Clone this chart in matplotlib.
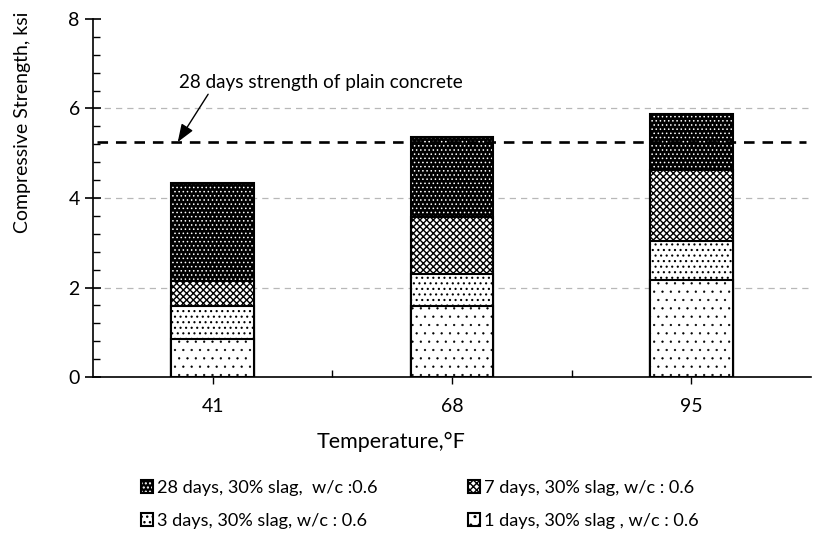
import matplotlib
matplotlib.use("Agg")
import matplotlib.pyplot as plt
from matplotlib.legend_handler import HandlerTuple

plt.rcParams['font.family'] = ['Lato', 'DejaVu Sans']
plt.rcParams['hatch.linewidth'] = 1.0

# strength (ksi), one value per temperature
temps = ['41', '68', '95']
day1 = [0.84, 1.59, 2.17]
day3 = [1.59, 2.30, 3.04]
day7 = [2.15, 3.58, 4.63]
day28 = [4.34, 5.37, 5.88]
plain_28 = 5.25

labels = {
    'd28': '28 days, 30% slag,  w/c :0.6',
    'd7': '7 days, 30% slag, w/c : 0.6',
    'd3': '3 days, 30% slag, w/c : 0.6',
    'd1': '1 days, 30% slag , w/c : 0.6',
}

fig = plt.figure(figsize=(8.13, 5.36), dpi=100)
ax = fig.add_axes([0.1144, 0.2966, 0.8831, 0.668])

x = range(len(temps))
w = 0.345


def hatch_lw(bars, lw):
    for p in bars:
        if hasattr(p, 'set_hatch_linewidth'):
            p.set_hatch_linewidth(lw)


# tallest bars first, shorter ages drawn on top
b28 = ax.bar(x, day28, w, facecolor='black', edgecolor='white', hatch='....', lw=0, zorder=2)
b28o = ax.bar(x, day28, w, fill=False, edgecolor='black', lw=1.5, zorder=2.1)
b7 = ax.bar(x, day7, w, facecolor='white', edgecolor='black', hatch='xxxxx', lw=1.5, zorder=3)
b3 = ax.bar(x, day3, w, facecolor='white', edgecolor='black', hatch='...', lw=1.5, zorder=4)
b1 = ax.bar(x, day1, w, facecolor='white', edgecolor='black', hatch='..', lw=1.5, zorder=5)
hatch_lw(b28, 0.6)
hatch_lw(b1, 0.4)
hatch_lw(b3, 0.8)

ax.axhline(plain_28, xmin=0.005, xmax=0.993, color='black', lw=1.9, dashes=(4, 3), zorder=6)
ax.annotate('28 days strength of plain concrete', xy=(-0.146, plain_28), xytext=(-0.142, 6.57),
            fontsize=13.6, va='center', ha='left',
            arrowprops=dict(arrowstyle='-|>,head_width=0.3,head_length=0.8', color='black',
                            lw=1, shrinkA=0, shrinkB=0, relpos=(0.11, 0)))

ax.set_xlim(-0.5, 2.5)
ax.set_ylim(0, 8)
ax.set_xticks(list(x))
ax.set_xticklabels(temps)
ax.set_xticks([0.5, 1.5], minor=True)
ax.set_yticks([0, 2, 4, 6, 8])
ax.set_yticks([v * 0.4 for v in range(21)], minor=True)
ax.yaxis.grid(True, which='major', color='#b8b8b8', lw=0.9, dashes=(5, 4))
ax.yaxis.get_gridlines()[-1].set_visible(False)
ax.set_axisbelow(True)

for s in ['top', 'right']:
    ax.spines[s].set_visible(False)
for s in ['left', 'bottom']:
    ax.spines[s].set_linewidth(1.2)

ax.tick_params(axis='y', which='major', direction='inout', length=11, width=1.2, labelsize=14, pad=4)
ax.tick_params(axis='y', which='minor', direction='in', length=5, width=1)
ax.tick_params(axis='x', which='major', direction='out', length=5, width=1, labelsize=14, pad=10)
ax.tick_params(axis='x', which='minor', direction='in', length=5, width=1)

ax.set_xlabel('Temperature,°F', fontsize=15.5, va='center')
ax.xaxis.set_label_coords(0.415, -0.182)
ax.set_ylabel('Compressive Strength, ksi', fontsize=14)
ax.yaxis.set_label_coords(-0.086, 0.712)

handles = [(b28[0], b28o[0]), b3[0], b7[0], b1[0]]
names = [labels['d28'], labels['d3'], labels['d7'], labels['d1']]
fig.legend(handles, names, ncol=2, loc='upper left', bbox_to_anchor=(0.153, 0.105, 0.8, 0.03),
           frameon=False, fontsize=13.1, handlelength=0.65, handleheight=0.7, handletextpad=0.25,
           columnspacing=4.95, labelspacing=0.92,
           handler_map={tuple: HandlerTuple(ndivide=1, pad=0)})

fig.savefig('out.png', dpi=100)
